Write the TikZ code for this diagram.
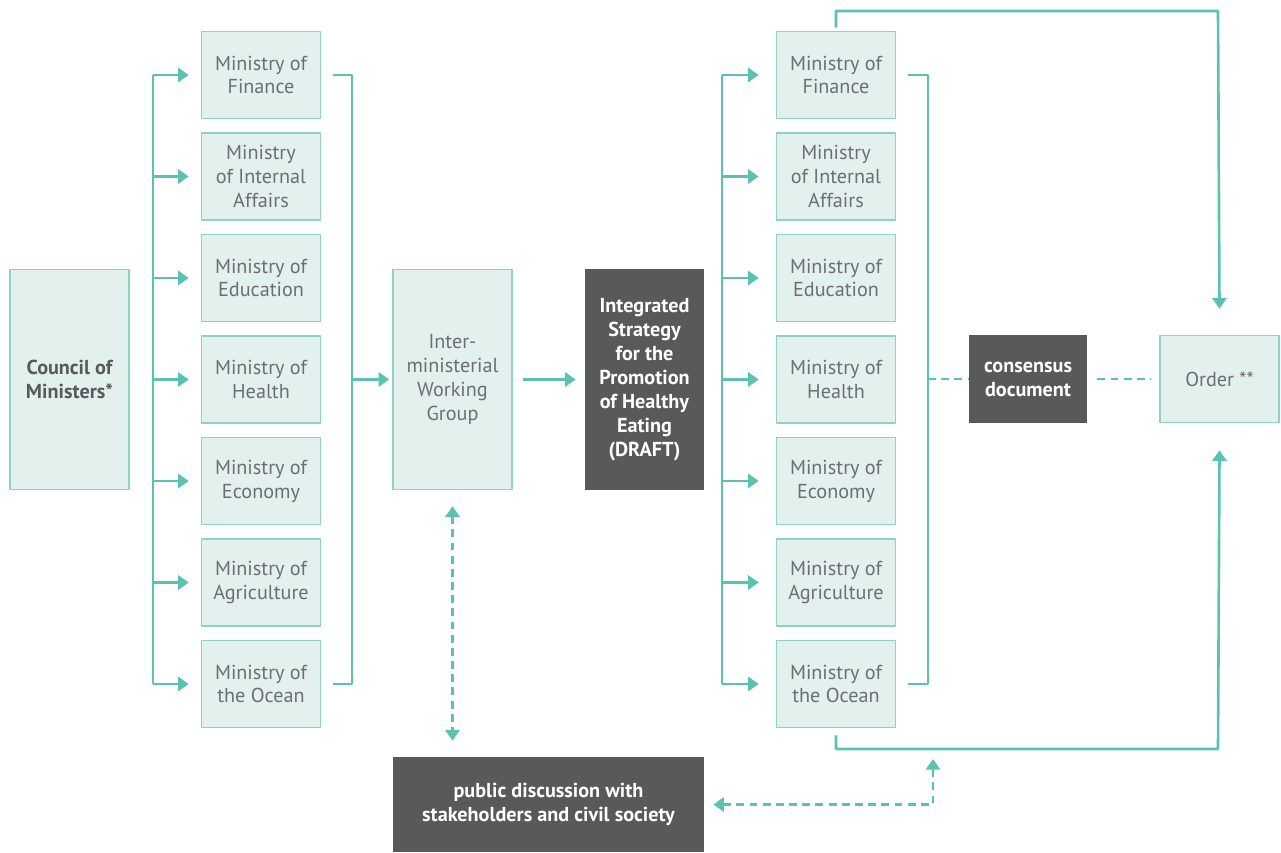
\documentclass[tikz,border=0pt]{standalone}
\usepackage{fontspec}
\setmainfont{PT Sans}
\usetikzlibrary{arrows.meta}
\definecolor{tline}{HTML}{5BC2B1}
\definecolor{tedge}{HTML}{8ED2C7}
\definecolor{tfill}{HTML}{E2F0EE}
\definecolor{dgray}{HTML}{58595B}
\definecolor{tgray}{HTML}{6D6E71}
\begin{document}
\begin{tikzpicture}[x=0.02cm,y=-0.02cm,font=\fontsize{11.5}{13.6}\selectfont,line join=round,
  box/.style={draw=tedge,fill=tfill,line width=0.9pt,text=tgray,align=center,inner sep=0pt,minimum width=2.38cm,minimum height=1.74cm},
  dark/.style={fill=dgray,text=white,font=\fontsize{11.5}{13.6}\selectfont\bfseries,align=center,inner sep=0pt},
  con/.style={draw=tline,line width=1.5pt},
  arr/.style={con,-{Triangle[length=6pt,width=8pt]}},
  dsh/.style={con,dash pattern=on 4.5pt off 3pt},
  dsharr/.style={dsh,{Triangle[length=6pt,width=8pt]}-{Triangle[length=6pt,width=8pt]}}]
\useasboundingbox (0,0) rectangle (1281,852);
\node[box,minimum height=4.4cm,text=dgray,font=\fontsize{11.5}{13.6}\selectfont\bfseries] (council) at (69.5,379.5) {Council of\\Ministers*};
\foreach \t [count=\i] in {{Ministry of\\Finance},{Ministry\\of Internal\\Affairs},{Ministry of\\Education},{Ministry of\\Health},{Ministry of\\Economy},{Ministry of\\Agriculture},{Ministry of\\the Ocean}}{
  \node[box] (lmin\i) at (261,{75+101.5*(\i-1)}) {\t};
  \node[box] (rmin\i) at (836,{75+101.5*(\i-1)}) {\t};
}
\node[box,minimum height=4.4cm] (iwg) at (452.5,379.5) {Inter-\\ministerial\\Working\\Group};
\node[dark,minimum width=2.38cm,minimum height=4.42cm] (draft) at (644.5,379.5) {Integrated\\Strategy\\for the\\Promotion\\of Healthy\\Eating\\(DRAFT)};
\node[dark,minimum width=2.36cm,minimum height=1.76cm] (cons) at (1028,379) {consensus\\document};
\node[box] (order) at (1219.5,379) {Order **};
\node[dark,minimum width=6.22cm,minimum height=1.9cm] (pub) at (548.5,804.5) {public discussion with\\stakeholders and civil society};
\coordinate (lbus) at (153,0);
\coordinate (lbr) at (352,0);
\coordinate (rbus) at (722,0);
\coordinate (rbr) at (928,0);
\coordinate (top) at (1218,11);
\coordinate (bot) at (1218,749);
\coordinate (botin) at (933,759);
\draw[con] (lbus|-lmin1) -- (lbus|-lmin7) (rbus|-rmin1) -- (rbus|-rmin7);
\foreach \i in {1,...,7}{
  \draw[arr] (lbus|-lmin\i) -- ([xshift=-.24cm]lmin\i.west);
  \draw[arr] (rbus|-rmin\i) -- ([xshift=-.34cm]rmin\i.west);
}
\draw[con] ([xshift=.24cm]lmin1.east) -- (lbr|-lmin1) -- (lbr|-lmin7) -- ([xshift=.24cm]lmin7.east);
\draw[con] ([xshift=.24cm]rmin1.east) -- (rbr|-rmin1) -- (rbr|-rmin7) -- ([xshift=.24cm]rmin7.east);
\draw[arr] (lbr|-iwg) -- ([xshift=-.06cm]iwg.west);
\draw[arr] ([xshift=.2cm]iwg.east) -- ([xshift=-.18cm]draft.west);
\draw[dsh] (rbr|-cons) -- (cons.west);
\draw[dsh] ([xshift=.2cm]cons.east) -- ([xshift=-.16cm]order.west);
\draw[arr] ([yshift=.06cm]rmin1.north) |- (top) -- ([yshift=.52cm]order.north);
\draw[arr] ([yshift=-.14cm]rmin7.south) |- (bot) -- ([yshift=-.54cm]order.south);
\draw[dsharr] ([yshift=-.32cm]iwg.south) -- ([yshift=.32cm]iwg.south|-pub.north);
\draw[dsharr] ([xshift=.18cm]pub.east) -| (botin);
\end{tikzpicture}
\end{document}
